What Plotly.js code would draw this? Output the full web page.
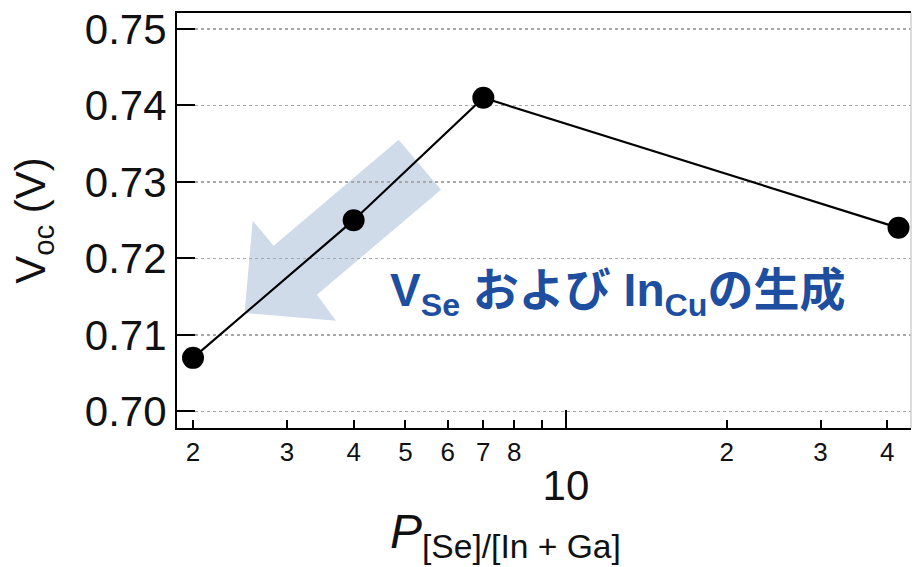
<!DOCTYPE html>
<html>
<head>
<meta charset="utf-8">
<script src="https://cdn.plot.ly/plotly-3.0.1.min.js"></script>
<style>html,body{margin:0;padding:0;background:#fff;}</style>
</head>
<body>
<div id="chart" style="width:912px;height:567px;"></div>
<script>
// Data
const pressureRatio = [2, 4, 7, 42];
const vocValues = [0.707, 0.725, 0.741, 0.724];

const yTickVals = [0.70, 0.71, 0.72, 0.73, 0.74, 0.75];
const yTickText = ['0.70', '0.71', '0.72', '0.73', '0.74', '0.75'];
const xTickVals = [2, 3, 4, 5, 6, 7, 8, 9, 20, 30, 40];
const xTickText = ['2', '3', '4', '5', '6', '7', '8', ' ', '2', '3', '4'];
const xDecadeVals = [10];
const xDecadeText = ['10'];

const labelFont = 'Liberation Sans, Arial, sans-serif';
const xRange = [0.271, 1.6466];
const yRange = [0.69783, 0.75209];

// Arrow outline (paper coordinates)
const arrowPts = [[0.3020,0.6947],[0.3597,0.5742],[0.1907,0.3212],[0.2166,0.2586],[0.0921,0.2771],[0.1031,0.4995],[0.1317,0.4393]];
const arrowPath = 'M ' + arrowPts.map(p => p[0] + ',' + p[1]).join(' L ') + ' Z';

const traces = [{
  x: pressureRatio,
  y: vocValues,
  type: 'scatter',
  mode: 'lines+markers',
  line: {color: '#000', width: 2.2},
  marker: {color: '#000', size: 22},
  xaxis: 'x', yaxis: 'y',
  showlegend: false,
  hoverinfo: 'x+y'
}, {
  x: xDecadeVals,
  y: [null],
  type: 'scatter',
  mode: 'markers',
  xaxis: 'x2', yaxis: 'y',
  showlegend: false,
  hoverinfo: 'skip'
}];

const layout = {
  width: 912, height: 567,
  margin: {l: 177, r: 1, t: 13, b: 139},
  paper_bgcolor: '#fff', plot_bgcolor: '#fff',
  showlegend: false,
  xaxis: {
    type: 'log', range: xRange,
    tickmode: 'array', tickvals: xTickVals, ticktext: xTickText,
    ticks: 'inside', ticklen: 8, tickwidth: 2, tickcolor: '#000',
    tickfont: {family: labelFont, size: 26, color: '#111'},
    showgrid: false, zeroline: false,
    showline: true, linecolor: '#000', linewidth: 2, mirror: true,
    ticklabelstandoff: 0
  },
  xaxis2: {
    type: 'log', range: xRange, overlaying: 'x', anchor: 'y', side: 'bottom',
    tickmode: 'array', tickvals: xDecadeVals, ticktext: xDecadeText,
    ticks: 'inside', ticklen: 18, tickwidth: 2, tickcolor: '#000',
    tickfont: {family: labelFont, size: 42, color: '#111'},
    showgrid: false, zeroline: false, showline: false,
    ticklabelstandoff: 29
  },
  yaxis: {
    range: yRange,
    tickmode: 'array', tickvals: yTickVals, ticktext: yTickText,
    ticks: 'inside', ticklen: 18, tickwidth: 2, tickcolor: '#000',
    tickfont: {family: labelFont, size: 42, color: '#111'},
    showgrid: true, gridcolor: '#a8a8a8', griddash: 'dot', gridwidth: 1.5,
    zeroline: false,
    showline: true, linecolor: '#000', linewidth: 2, mirror: false,
    title: {text: 'V<sub>oc</sub> (V)', font: {family: labelFont, size: 42, color: '#111'}, standoff: 26}
  },
  shapes: [
    {type: 'path', xref: 'paper', yref: 'paper', path: arrowPath,
     fillcolor: '#d0dbea', line: {width: 0}, layer: 'below'},
    {type: 'line', xref: 'paper', yref: 'paper', x0: 1, x1: 1, y0: 0, y1: 1,
     line: {color: '#d0d0d0', width: 1.5}}
  ],
  annotations: [
    {xref: 'paper', yref: 'paper', x: 0.2875, y: -0.257, xanchor: 'left', yanchor: 'middle',
     showarrow: false,
     text: '<i>P</i><sub>[Se]/[In + Ga]</sub>',
     font: {family: labelFont, size: 48, color: '#111'}},
    {xref: 'paper', yref: 'paper', x: 0.600, y: 0.325, xanchor: 'center', yanchor: 'middle',
     showarrow: false,
     text: '<b>V<sub>Se</sub> および In<sub>Cu</sub>の生成</b>',
     font: {family: 'Liberation Sans, Noto Sans CJK JP, sans-serif', size: 46, color: '#1d4ea0'}}
  ]
};

Plotly.newPlot('chart', traces, layout, {displayModeBar: false, staticPlot: true});
</script>
</body>
</html>
